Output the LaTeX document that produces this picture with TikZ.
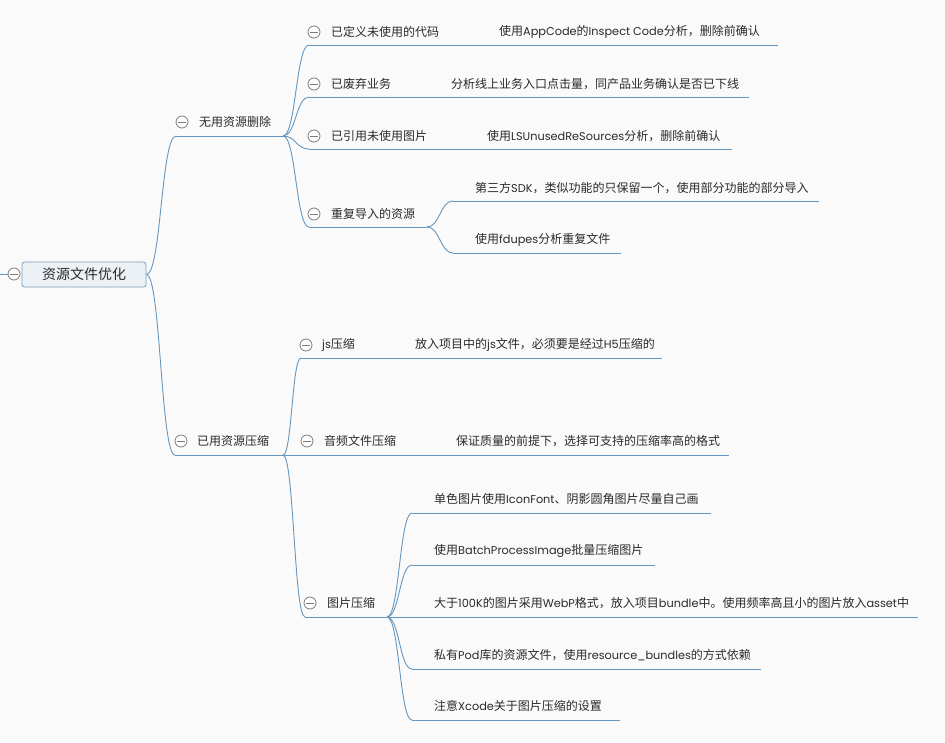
\documentclass[tikz,border=0pt]{standalone}
\usepackage{fontspec}
\setmainfont{Noto Sans CJK SC}
\newfontfamily\lat{Poppins}
\usetikzlibrary{calc}
\definecolor{bg}{HTML}{FAFAFA}
\definecolor{ln}{HTML}{6496BF}
\definecolor{tx}{HTML}{2A2A2A}
\definecolor{rootfill}{HTML}{ECF1F6}
\definecolor{rootdraw}{HTML}{7A9DBC}
\definecolor{cg}{HTML}{7C7C7C}
\newcommand\mmcurve[2]{\path ($(#1)!.5!(#2)$) coordinate (bm);
  \draw[conn] (#1) .. controls (bm |- #1) and (bm |- #2) .. (#2);}
\newcommand\la[1]{{\lat\fontsize{11.3}{13}\selectfont #1}}
\tikzset{
  conn/.style={draw=ln, line width=0.9pt},
  lbl/.style={anchor=west, inner sep=0pt, text=tx, font=\fontsize{12}{14}\selectfont},
  rootbox/.style={draw=rootdraw, fill=rootfill, line width=0.8pt, rounded corners=2.5pt,
    minimum width=124pt, minimum height=25pt, inner sep=0pt, text=tx,
    font=\fontsize{14}{16}\selectfont},
  fold/.style={circle, draw=cg, fill=white, line width=0.8pt, minimum size=12pt, inner sep=0pt,
    path picture={\draw[cg, line width=0.8pt]
      ([xshift=-4pt]path picture bounding box.center) -- ([xshift=4pt]path picture bounding box.center);}},
}
\begin{document}
\begin{tikzpicture}[x=1pt,y=-1pt]
\fill[bg] (0,0) rectangle (945,742);
\useasboundingbox (0,0) rectangle (945,742);

% ---------- coordinates ----------
\coordinate (lft) at (0,274);
\coordinate (u1s) at (176,136); \coordinate (u1e) at (283,136);
\coordinate (u2s) at (175,455); \coordinate (u2e) at (283,455);

\coordinate (a1s) at (309,45);  \coordinate (a1e) at (778,45);
\coordinate (a2s) at (309,97);  \coordinate (a2e) at (749,97);
\coordinate (a3s) at (309,149); \coordinate (a3e) at (732,149);
\coordinate (a4s) at (309,227); \coordinate (a4e) at (427,227);
\coordinate (b1s) at (453,201); \coordinate (b1e) at (819,201);
\coordinate (b2s) at (453,253); \coordinate (b2e) at (621,253);

\coordinate (c1s) at (301,358); \coordinate (c1e) at (662,358);
\coordinate (c2s) at (301,455); \coordinate (c2e) at (729,455);
\coordinate (c3s) at (305,617); \coordinate (c3e) at (387,617);
\coordinate (d1s) at (412,513); \coordinate (d1e) at (711,513);
\coordinate (d2s) at (412,565); \coordinate (d2e) at (655,565);
\coordinate (d3s) at (412,617); \coordinate (d3e) at (918,617);
\coordinate (d4s) at (412,669); \coordinate (d4e) at (761,669);
\coordinate (d5s) at (412,720); \coordinate (d5e) at (620,720);

% ---------- root ----------
\node[rootbox] (root) at (84,274.5) {资源文件优化};
\draw[conn] (lft) -- (14,274);
\node[fold] (rf) at (14,274) {};

% ---------- connectors ----------
\mmcurve{root.east}{u1s}
\mmcurve{root.east}{u2s}
\draw[conn] (u1s) -- (u1e);
\draw[conn] (u2s) -- (u2e);

\mmcurve{u1e}{a1s} \mmcurve{u1e}{a2s} \mmcurve{u1e}{a3s} \mmcurve{u1e}{a4s}
\draw[conn] (a1s) -- (a1e);
\draw[conn] (a2s) -- (a2e);
\draw[conn] (a3s) -- (a3e);
\draw[conn] (a4s) -- (a4e);
\mmcurve{a4e}{b1s} \mmcurve{a4e}{b2s}
\draw[conn] (b1s) -- (b1e);
\draw[conn] (b2s) -- (b2e);

\mmcurve{u2e}{c1s} \mmcurve{u2e}{c2s} \mmcurve{u2e}{c3s}
\draw[conn] (c1s) -- (c1e);
\draw[conn] (c2s) -- (c2e);
\draw[conn] (c3s) -- (c3e);
\mmcurve{c3e}{d1s} \mmcurve{c3e}{d2s} \mmcurve{c3e}{d3s} \mmcurve{c3e}{d4s} \mmcurve{c3e}{d5s}
\draw[conn] (d1s) -- (d1e);
\draw[conn] (d2s) -- (d2e);
\draw[conn] (d3s) -- (d3e);
\draw[conn] (d4s) -- (d4e);
\draw[conn] (d5s) -- (d5e);

% ---------- level 1 ----------
\node[fold] (f1) at (182,122) {};
\node[lbl] (n1) at (199,122) {无用资源删除};
\node[fold] (f2) at (181,441) {};
\node[lbl] (n2) at (197,441) {已用资源压缩};

% ---------- level 2 (无用资源删除) ----------
\node[fold] (fa1) at (314,32) {};
\node[lbl] (na1) at (331,32) {已定义未使用的代码};
\node[lbl] (ta1) at (499,32) {使用\la{AppCode}的\la{Inspect Code}分析，删除前确认};
\node[fold] (fa2) at (314,84) {};
\node[lbl] (na2) at (331,84) {已废弃业务};
\node[lbl] (ta2) at (451,84) {分析线上业务入口点击量，同产品业务确认是否已下线};
\node[fold] (fa3) at (314,136) {};
\node[lbl] (na3) at (331,136) {已引用未使用图片};
\node[lbl] (ta3) at (487,136) {使用\la{LSUnusedReSources}分析，删除前确认};
\node[fold] (fa4) at (314,214) {};
\node[lbl] (na4) at (331,214) {重复导入的资源};
\node[lbl] (tb1) at (475,188) {第三方\la{SDK}，类似功能的只保留一个，使用部分功能的部分导入};
\node[lbl] (tb2) at (475,240) {使用\la{fdupes}分析重复文件};

% ---------- level 2 (已用资源压缩) ----------
\node[fold] (fc1) at (306,345) {};
\node[lbl] (nc1) at (322,345) {\la{js}压缩};
\node[lbl] (tc1) at (415,345) {放入项目中的\la{js}文件，必须要是经过\la{H5}压缩的};
\node[fold] (fc2) at (307,441) {};
\node[lbl] (nc2) at (324,441) {音频文件压缩};
\node[lbl] (tc2) at (456,441) {保证质量的前提下，选择可支持的压缩率高的格式};
\node[fold] (fc3) at (310,603) {};
\node[lbl] (nc3) at (327,603) {图片压缩};
\node[lbl] (td1) at (434,499) {单色图片使用\la{IconFont}、阴影圆角图片尽量自己画};
\node[lbl] (td2) at (434,551) {使用\la{BatchProcessImage}批量压缩图片};
\node[lbl] (td3) at (434,603) {大于\la{100K}的图片采用\la{WebP}格式，放入项目\la{bundle}中。使用频率高且小的图片放入\la{asset}中};
\node[lbl] (td4) at (434,655) {私有\la{Pod}库的资源文件，使用\la{resource\_bundles}的方式依赖};
\node[lbl] (td5) at (434,706) {注意\la{Xcode}关于图片压缩的设置};
\end{tikzpicture}
\end{document}
